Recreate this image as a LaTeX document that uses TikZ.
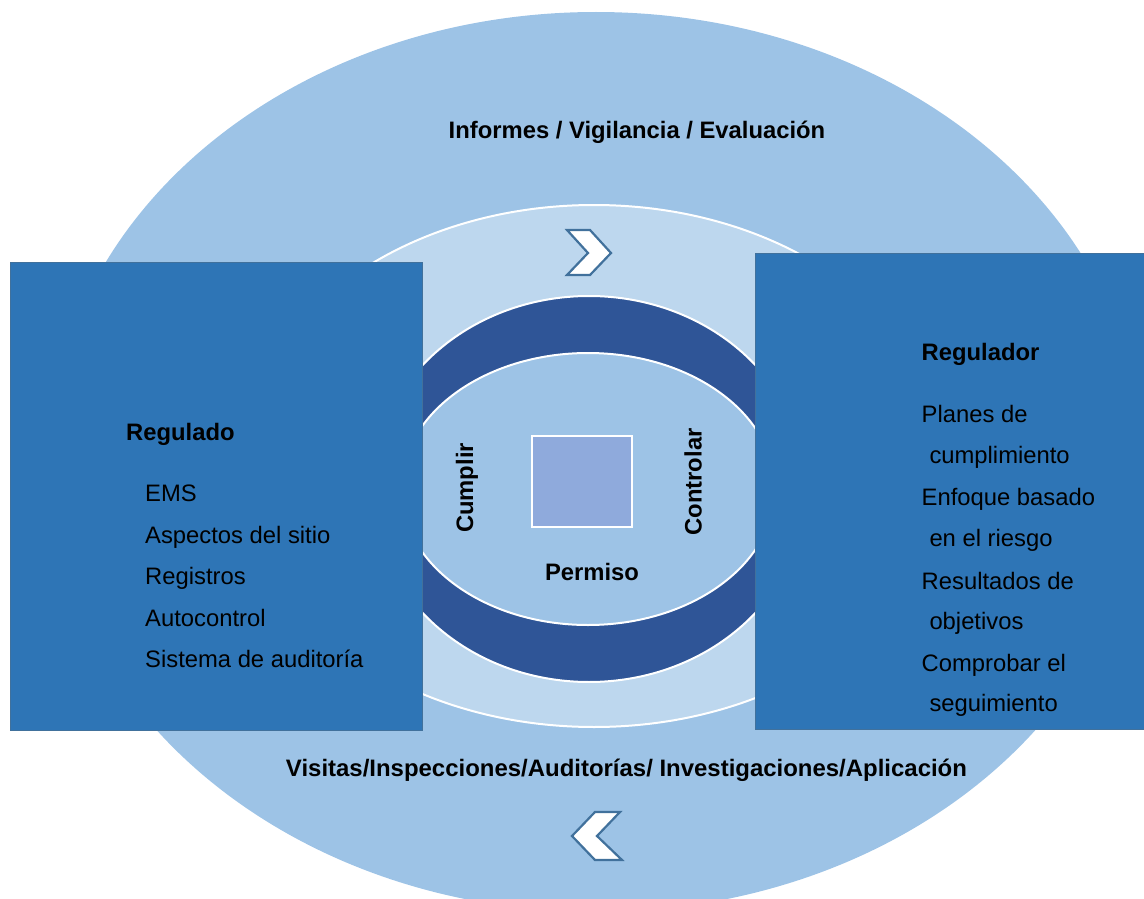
\documentclass[tikz,border=0pt]{standalone}
\usepackage{fontspec}
\setmainfont{Liberation Sans}
\definecolor{outerc}{HTML}{9DC3E6}
\definecolor{midc}{HTML}{BDD7EE}
\definecolor{darkc}{HTML}{2F5597}
\definecolor{sqc}{HTML}{8FAADC}
\definecolor{boxc}{HTML}{2E75B6}
\definecolor{boxline}{HTML}{41719C}
\begin{document}
\begin{tikzpicture}[x=1pt,y=-1pt,
  txt/.style={font=\fontsize{23.8}{28}\selectfont, inner sep=0pt, anchor=base west},
  btxt/.style={font=\fontsize{23.8}{28}\selectfont\bfseries, inner sep=0pt},
  ring/.style={draw=white, line width=2pt},
  bigbox/.style={draw=boxline, line width=1pt, fill=boxc, inner sep=0pt, anchor=north west},
  chev/.style={draw=boxline, line width=2.2pt, fill=white, line join=miter}]
\useasboundingbox (0,0) rectangle (1144,899);
\clip (0,0) rectangle (1144,899);
% ellipses
\fill[outerc] (596,462) ellipse [x radius=547pt, y radius=450pt];
\filldraw[ring, fill=midc] (594,466) ellipse [x radius=352pt, y radius=261pt];
\filldraw[ring, fill=darkc] (589,489) ellipse [x radius=217pt, y radius=193pt];
\filldraw[ring, fill=outerc] (588,489) ellipse [x radius=187pt, y radius=136pt];
\node[draw=white, line width=2pt, fill=sqc, minimum width=100pt, minimum height=91pt, inner sep=0pt] (sq) at (582,481.5) {};
% boxes
\node[bigbox, minimum width=412pt, minimum height=468pt] (leftbox) at (10,262) {};
\node[bigbox, minimum width=400pt, minimum height=476pt] (rightbox) at (755,253) {};
% outer texts
\node[btxt, anchor=base] (top) at (637,139) {Informes / Vigilancia / Evaluación};
\node[btxt, anchor=base] (bottom) at (626.5,776) {\resizebox{681pt}{\height}{Visitas/Inspecciones/Auditorías/ Investigaciones/Aplicación}};
% left box texts
\node[btxt, anchor=base west] (regulado) at (126,440) {Regulado};
\node[txt] (l1) at (145,501.7) {EMS};
\node[txt] (l2) at (145,543.3) {Aspectos del sitio};
\node[txt] (l3) at (145,584.3) {Registros};
\node[txt] (l4) at (145,626) {Autocontrol};
\node[txt] (l5) at (145,667.7) {Sistema de auditoría};
% right box texts
\node[btxt, anchor=base west] (regulador) at (921.5,360.7) {Regulador};
\node[txt] (r1) at (921.5,422.7) {Planes de};
\node[txt] (r2) at (929.3,463.3) {cumplimiento};
\node[txt] (r3) at (921.5,505.7) {Enfoque basado};
\node[txt] (r4) at (929.3,546.7) {en el riesgo};
\node[txt] (r5) at (921.5,589) {Resultados de};
\node[txt] (r6) at (929.3,629) {objetivos};
\node[txt] (r7) at (921.5,671.7) {Comprobar el};
\node[txt] (r8) at (929.3,711.7) {seguimiento};
% centre texts
\node[btxt, rotate=90] (cumplir) at (467,488) {Cumplir};
\node[btxt, rotate=90] (controlar) at (693,482) {Controlar};
\node[btxt] (permiso) at (592,572) {Permiso};
% chevrons
\draw[chev] (567,230) -- (590,230) -- (611,253) -- (590,275) -- (567,275) -- (588,253) -- cycle;
\draw[chev] (620,812) -- (595,812) -- (572,836) -- (595,860) -- (622,860) -- (597,836) -- cycle;
\end{tikzpicture}
\end{document}
